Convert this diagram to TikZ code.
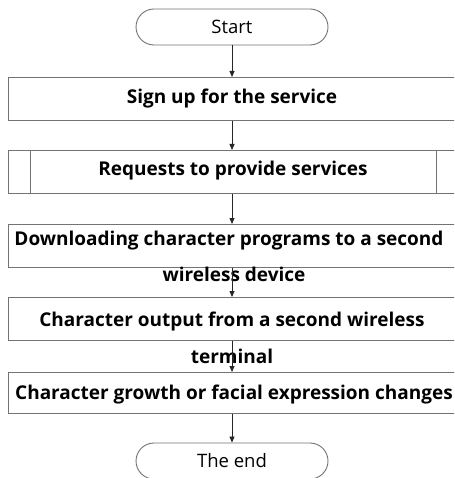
\documentclass[tikz,border=0pt]{standalone}
\usepackage{fontspec}
\setmainfont{Open Sans}
\usetikzlibrary{shapes.misc,arrows.meta}
\begin{document}
\begin{tikzpicture}[x=1pt,y=-1pt,
  boxline/.style={draw=black!55,line width=0.9pt},
  procbox/.style={boxline,rectangle,minimum width=452pt,minimum height=43pt,inner sep=0pt,anchor=north west},
  termbox/.style={boxline,rounded rectangle,minimum width=192pt,minimum height=36pt,inner sep=0pt,font=\fontsize{18.5}{20}\selectfont},
  btext/.style={font=\fontsize{19}{22}\selectfont\bfseries,inner sep=0pt},
  arr/.style={draw=black!85,line width=0.8pt,-{Triangle[length=6pt,width=5pt]}}]
\clip (0,0) rectangle (454,478);
\fill[white] (0,0) rectangle (454,478);
% terminals
\node[termbox] (start) at (232,27) {Start};
\node[termbox] (theend) at (232,461) {The end};
% process boxes
\node[procbox] (b1) at (8,77) {};
\node[procbox] (b2) at (8,150) {};
\node[procbox] (b3) at (8,224) {};
\node[procbox,minimum height=43pt] (b4) at (8,297) {};
\node[procbox,minimum height=41pt] (b5) at (8,372) {};
% predefined-process inner lines
\coordinate (b2l) at (30,150);
\coordinate (b2r) at (436,150);
\draw[boxline] (b2l) -- (b2l |- b2.south);
\draw[boxline] (b2r) -- (b2r |- b2.south);
% texts
\node[btext] (t1) at (232,99) {Sign up for the service};
\node[btext] (t2) at (233,171) {Requests to provide services};
\node[btext] (t3a) at (229,241) {Downloading character programs to a second};
\node[btext] (t3b) at (234,274) {wireless device};
\node[btext] (t4a) at (232,322) {Character output from a second wireless};
\node[btext] (t4b) at (232,356) {terminal};
\node[btext] (t5) at (234,395) {Character growth or facial expression changes};
% connectors
\draw[arr] (start.south) -- (start.south |- b1.north);
\draw[arr] (start.south |- b1.south) -- (start.south |- b2.north);
\draw[arr] (start.south |- b2.south) -- (start.south |- b3.north);
\draw[arr] (start.south |- b3.south) -- (start.south |- b4.north);
\draw[arr] (start.south |- b4.south) -- (start.south |- b5.north);
\draw[arr] (start.south |- b5.south) -- (theend.north);
\end{tikzpicture}
\end{document}
